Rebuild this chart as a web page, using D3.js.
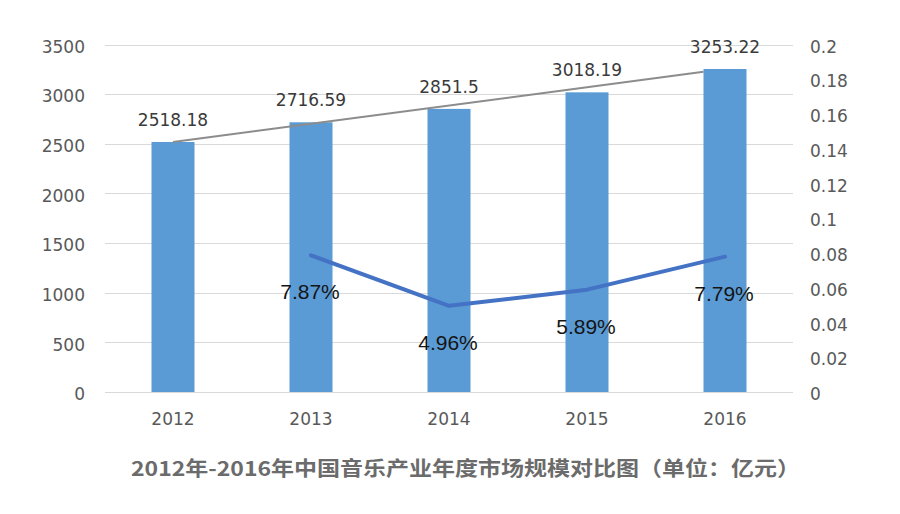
<!DOCTYPE html>
<html>
<head>
<meta charset="utf-8">
<script src="https://cdn.jsdelivr.net/npm/d3@7/dist/d3.min.js"></script>
<style>
  html, body { margin: 0; padding: 0; background: #fff; }
  svg { display: block; }
</style>
</head>
<body>
<svg id="chart" width="900" height="514"></svg>
<script>
// ---- data ----
const years = ["2012", "2013", "2014", "2015", "2016"];
const marketSize = [2518.18, 2716.59, 2851.5, 3018.19, 3253.22];
const growthYears = ["2013", "2014", "2015", "2016"];
const growthRate = [0.0787, 0.0496, 0.0589, 0.0779];
const growthLabels = ["7.87%", "4.96%", "5.89%", "7.79%"];
const trendValues = [2518, 3253]; // gray line: 2012 -> 2016
const leftTicks = [0, 500, 1000, 1500, 2000, 2500, 3000, 3500];
const rightTicks = [0, 0.02, 0.04, 0.06, 0.08, 0.1, 0.12, 0.14, 0.16, 0.18, 0.2];
const title = "2012年-2016年中国音乐产业年度市场规模对比图（单位：亿元）";

// ---- layout ----
const svg = d3.select("#chart");
const plot = { left: 104, right: 794, top: 44.5, bottom: 392 };
const barW = 43;
const numFont = "'DejaVu Sans', sans-serif";

const x = d3.scalePoint().domain(years).range([plot.left, plot.right]).padding(0.5);
const yL = d3.scaleLinear().domain([0, 3500]).range([plot.bottom, plot.top]);
const yR = d3.scaleLinear().domain([0, 0.2]).range([plot.bottom, plot.top]);

// gridlines
svg.append("g").selectAll("line").data(leftTicks).join("line")
  .attr("x1", plot.left + 1).attr("x2", plot.right - 1)
  .attr("y1", d => Math.round(yL(d)) + 0.5).attr("y2", d => Math.round(yL(d)) + 0.5)
  .attr("stroke", "#d9d9d9").attr("stroke-width", 1);

// left axis
const axL = svg.append("g").attr("transform", `translate(${plot.left - 19},0)`)
  .call(d3.axisLeft(yL).tickValues(leftTicks).tickSize(0).tickPadding(0).tickFormat(d => d));
axL.select(".domain").remove();
axL.selectAll("text").attr("font-family", numFont).attr("font-size", 17)
  .attr("fill", "#595959").attr("dy", "0.45em");

// right axis
const axR = svg.append("g").attr("transform", `translate(${plot.right + 16},0)`)
  .call(d3.axisRight(yR).tickValues(rightTicks).tickSize(0).tickPadding(0).tickFormat(d => String(d)));
axR.select(".domain").remove();
axR.selectAll("text").attr("font-family", numFont).attr("font-size", 17)
  .attr("fill", "#595959").attr("dy", "0.45em");

// x labels
svg.append("g").selectAll("text").data(years).join("text")
  .attr("x", d => x(d)).attr("y", 425)
  .attr("text-anchor", "middle")
  .attr("font-family", numFont).attr("font-size", 17).attr("fill", "#595959")
  .text(d => d);

// bars
svg.append("g").selectAll("rect").data(years).join("rect")
  .attr("x", d => x(d) - barW / 2).attr("width", barW)
  .attr("y", (d, i) => yL(marketSize[i]))
  .attr("height", (d, i) => yL(0) - yL(marketSize[i]))
  .attr("fill", "#5b9bd5");

// gray trend line (from 2012 centre to 2016 bar edge)
const tx0 = x(years[0]), tx1full = x(years[years.length - 1]);
const tx1 = tx1full - barW / 2;
const tInterp = d3.scaleLinear().domain([tx0, tx1full]).range(trendValues);
svg.append("line")
  .attr("x1", tx0).attr("y1", yL(tInterp(tx0)))
  .attr("x2", tx1).attr("y2", yL(tInterp(tx1)))
  .attr("stroke", "#8c8c8c").attr("stroke-width", 2);

// bar value labels
svg.append("g").selectAll("text").data(years).join("text")
  .attr("x", d => x(d)).attr("y", (d, i) => yL(marketSize[i]) - 16)
  .attr("text-anchor", "middle")
  .attr("font-family", numFont).attr("font-size", 17).attr("fill", "#3a3a3a")
  .text((d, i) => String(marketSize[i]));

// growth line
const line = d3.line().x((d, i) => x(growthYears[i])).y(d => yR(d));
svg.append("path").datum(growthRate)
  .attr("d", line).attr("fill", "none")
  .attr("stroke", "#4472c4").attr("stroke-width", 4)
  .attr("stroke-linejoin", "round").attr("stroke-linecap", "round");

// growth labels
svg.append("g").selectAll("text").data(growthYears).join("text")
  .attr("x", (d, i) => x(d) - 1).attr("y", (d, i) => yR(growthRate[i]) + 44)
  .attr("text-anchor", "middle")
  .attr("font-family", "'Liberation Sans', Arial, sans-serif").attr("font-size", 21)
  .attr("fill", "#141414")
  .text((d, i) => growthLabels[i]);

// title
svg.append("text")
  .attr("x", 131).attr("y", 476)
  .attr("textLength", 669).attr("lengthAdjust", "spacingAndGlyphs")
  .attr("font-family", "'Noto Sans CJK SC', sans-serif").attr("font-weight", "bold")
  .attr("font-size", 20).attr("fill", "#6b6b6b")
  .text(title);
</script>
</body>
</html>
